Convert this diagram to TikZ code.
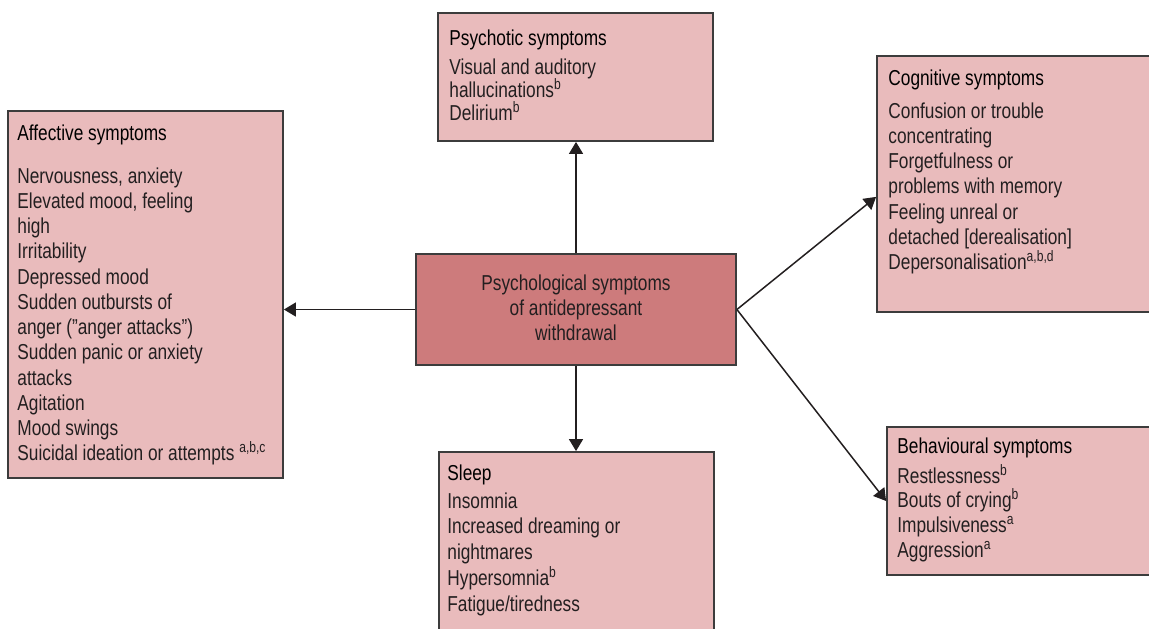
\documentclass[tikz,border=0pt]{standalone}
\usepackage{fontspec}
\setmainfont[FakeStretch=0.8]{Liberation Sans}
\usetikzlibrary{arrows.meta,calc,fit}
\definecolor{boxpink}{HTML}{E9BBBC}
\definecolor{mainrose}{HTML}{CD7B7C}
\definecolor{edgegrey}{HTML}{3C3C3C}
\definecolor{inkgrey}{HTML}{231F20}
\tikzset{%
	symbox/.style  = {draw=edgegrey, fill=boxpink, line width=0.9pt, inner sep=0pt, rectangle},
	mainbox/.style = {symbox, fill=mainrose},
	heading/.style = {anchor=base west, inner sep=0pt, text=black, font=\fontsize{10.8}{12.6}\selectfont},
	item/.style    = {anchor=base west, inner sep=0pt, text=inkgrey, font=\fontsize{10.8}{12.6}\selectfont},
	arrow/.style   = {line width=0.75pt, draw=inkgrey, -{Triangle[length=6pt,width=7pt]}},
}

\begin{document}
\begin{tikzpicture}[x=0.5pt,y=-0.5pt]
	\useasboundingbox (0,0) rectangle (1149,628);
	\clip (0,0) rectangle (1149,628);

	% boxes
	\node[symbox, fit={(8,111) (283,478)}] (aff) {};
	\node[symbox, fit={(438,13) (713,141)}] (psy) {};
	\node[mainbox, fit={(416,254) (736,365)}] (ctr) {};
	\node[symbox, fit={(877,56) (1175,312)}] (cog) {};
	\node[symbox, fit={(887,427) (1175,575)}] (beh) {};
	\node[symbox, fit={(439,452) (714,650)}] (slp) {};

	% centre
	\foreach \txt [count=\i] in {Psychological symptoms, of antidepressant, withdrawal}
		\node[item, anchor=base] (ctr-\i) at (576,{290+25*(\i-1)}) {\txt};

	% affective
	\node[heading] (aff-title) at (17,140) {Affective symptoms};
	\foreach \txt [count=\i] in {{Nervousness, anxiety}, {Elevated mood, feeling}, high, Irritability, Depressed mood, Sudden outbursts of, {anger (”anger attacks”)}, Sudden panic or anxiety, attacks, Agitation, Mood swings, {Suicidal ideation or attempts \textsuperscript{a,b,c}}}
		\node[item] (aff-\i) at (17,{183+25.25*(\i-1)}) {\txt};

	% psychotic
	\node[heading] (psy-title) at (449,45) {Psychotic symptoms};
	\foreach \txt [count=\i] in {Visual and auditory, hallucinations\textsuperscript{b}, Delirium\textsuperscript{b}}
		\node[item] (psy-\i) at (449,{74+23*(\i-1)}) {\txt};

	% cognitive
	\node[heading] (cog-title) at (888,85) {Cognitive symptoms};
	\foreach \txt [count=\i] in {Confusion or trouble, concentrating, Forgetfulness or, problems with memory, Feeling unreal or, {detached [derealisation]}, {Depersonalisation\textsuperscript{a,b,d}}}
		\node[item] (cog-\i) at (888,{118+25.3*(\i-1)}) {\txt};

	% behavioural
	\node[heading] (beh-title) at (897,453) {Behavioural symptoms};
	\foreach \txt [count=\i] in {Restlessness\textsuperscript{b}, Bouts of crying\textsuperscript{b}, Impulsiveness\textsuperscript{a}, Aggression\textsuperscript{a}}
		\node[item] (beh-\i) at (897,{483+24.7*(\i-1)}) {\txt};

	% sleep
	\node[heading] (slp-title) at (447,480) {Sleep};
	\foreach \txt [count=\i] in {Insomnia, Increased dreaming or, nightmares, Hypersomnia\textsuperscript{b}, Fatigue/tiredness}
		\node[item] (slp-\i) at (447,{508+25.8*(\i-1)}) {\txt};

	% connectors
	\draw[arrow] (ctr.north) -- (ctr.north |- psy.south);
	\draw[arrow] (ctr.west) -- (ctr.west -| aff.east);
	\draw[arrow] (ctr.south) -- (ctr.south |- slp.north);
	\draw[arrow] (ctr.east) -- ($(cog.north west)!0.55!(cog.south west)$);
	\draw[arrow] (ctr.east) -- (beh.west);
\end{tikzpicture}
\end{document}
